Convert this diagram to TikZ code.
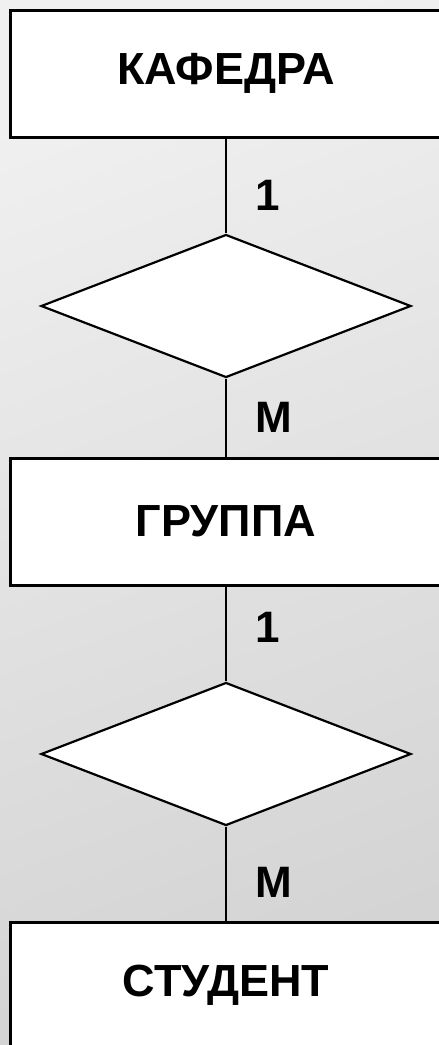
\documentclass[tikz,border=0pt]{standalone}
\usepackage{fontspec}
\setmainfont{Liberation Sans}
\usetikzlibrary{shapes}
\usetikzlibrary{calc}
\usetikzlibrary{positioning}

\definecolor{bgtop}{gray}{0.94}
\definecolor{bgbottom}{gray}{0.83}

\begin{document}
\begin{tikzpicture}[black, line width = 1.3pt,
    entity/.style = {rectangle, draw, fill = white, line width = 1.5pt, minimum width = 216pt, minimum height = 63.5pt, inner sep = 0pt, font = \fontsize{22.5}{27}\selectfont\bfseries},
    relation/.style = {diamond, draw, fill = white, minimum width = 185pt, minimum height = 71.5pt, inner sep = 0pt, line width = 1.1pt},
    card/.style = {anchor = west, inner sep = 0pt, font = \fontsize{22}{26}\selectfont\bfseries}]

    \useasboundingbox (0,0) rectangle (219.5pt,-522.5pt);
    \shade[top color = bgtop, bottom color = bgbottom, shading angle = 20] (0,0) rectangle (219.5pt,-522.5pt);
    \clip (0,0) rectangle (219.5pt,-522.5pt);

    %\draw[help lines, opacity = 0.1] (0,0) grid (8,-19);

    \begin{scope}[on grid]

        \node (KAF) at (113pt,-36.75pt) [entity] {КАФЕДРА};

        \node (R1) [relation, below = 116.25pt of KAF] {};
        \node (GRP) [entity, below = 107.75pt of R1] {ГРУППА};

        \node (R2) [relation, below = 116.25pt of GRP] {};
        \node (STD) [entity, below = 115.75pt of R2] {СТУДЕНТ};

        \draw (KAF) -- (R1);
        \draw (R1) -- (GRP);
        \draw (GRP) -- (R2);
        \draw (R2) -- (STD);

        \node (one1) [below right = 28.5pt and 14pt of KAF.south, card] {1};
        \node (many1) [above right = 19.5pt and 14pt of GRP.north, card] {M};

        \node (one2) [below right = 20.5pt and 14pt of GRP.south, card] {1};
        \node (many2) [above right = 19pt and 14pt of STD.north, card] {M};

    \end{scope}

\end{tikzpicture}
\end{document}
